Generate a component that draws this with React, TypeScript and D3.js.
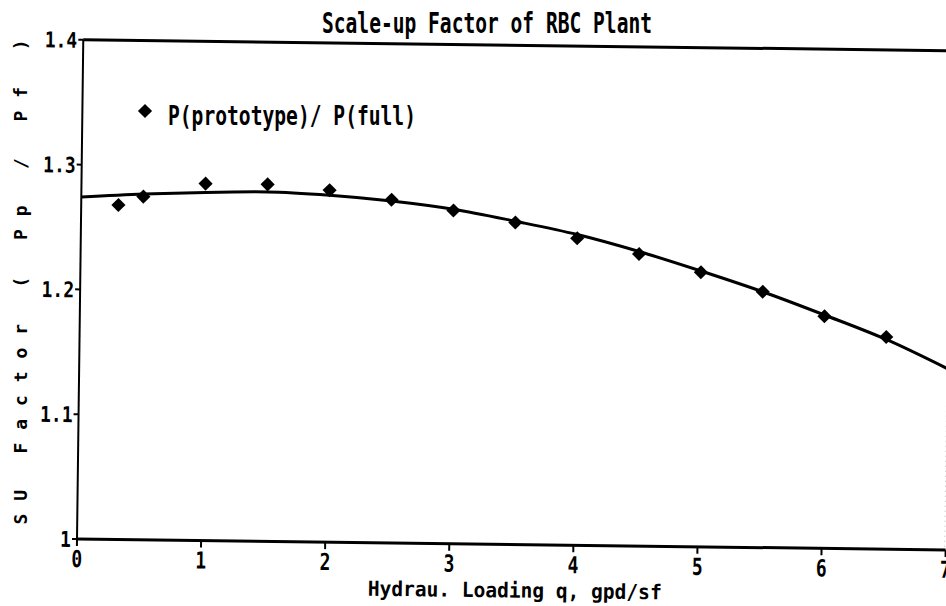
import React, { useEffect, useRef } from 'react';
import * as d3 from 'd3';

const width = 946;
const height = 606;

// measured points: P(prototype) / P(full)
const loadings = [0.3, 0.5, 1, 1.5, 2, 2.5, 3, 3.5, 4, 4.5, 5, 5.5, 6, 6.5];
const ratios = [1.268, 1.275, 1.286, 1.286, 1.282, 1.275, 1.267, 1.258, 1.246, 1.234, 1.220, 1.205, 1.186, 1.170];

// fitted curve
const fitLoadings = [0, 0.5, 1, 1.5, 2, 2.5, 3, 3.5, 4, 4.5, 5, 5.5, 6, 6.5, 7];
const fitRatios = [1.274, 1.277, 1.279, 1.280, 1.278, 1.274, 1.268, 1.259, 1.249, 1.236, 1.221, 1.205, 1.187, 1.168, 1.145];

const xTicks = [0, 1, 2, 3, 4, 5, 6, 7];
const xTickLabels = ['0', '1', '2', '3', '4', '5', '6', '7'];
const yTicks = [1, 1.1, 1.2, 1.3, 1.4];
const yTickLabels = ['1', '1.1', '1.2', '1.3', '1.4'];

const title = 'Scale-up Factor of RBC Plant';
const xTitle = 'Hydrau. Loading q, gpd/sf';
const yTitle = 'SU Factor ( Pp / Pf )';
const legendLabel = 'P(prototype)/ P(full)';

const font = '"DejaVu Sans Mono", monospace';

export default function App() {
    const ref = useRef<SVGSVGElement>(null);

    useEffect(() => {
        const svg = d3.select(ref.current);
        svg.selectAll('*').remove();

        const x = d3.scaleLinear().domain([0, 7]).range([77, 77 + 7 * 124.1]);
        const y = d3.scaleLinear().domain([1, 1.4]).range([539, 539 - 4 * 124.8]);

        // the scanned page is tilted a little clockwise
        const plot = svg.append('g').attr('transform', `rotate(0.72, ${x(0)}, ${y(1)})`);

        // frame
        plot.append('line')
            .attr('x1', x(0)).attr('x2', x(7))
            .attr('y1', y(1.4)).attr('y2', y(1.4))
            .attr('stroke', '#000').attr('stroke-width', 3);
        plot.append('line')
            .attr('x1', x(0)).attr('x2', x(0))
            .attr('y1', y(1.4)).attr('y2', y(1))
            .attr('stroke', '#000').attr('stroke-width', 2);
        plot.append('line')
            .attr('x1', x(0)).attr('x2', x(7))
            .attr('y1', y(1)).attr('y2', y(1))
            .attr('stroke', '#000').attr('stroke-width', 3);
        plot.append('line')
            .attr('x1', x(7) - 1).attr('x2', x(7) - 1)
            .attr('y1', y(1.4)).attr('y2', y(1))
            .attr('stroke', '#bbb').attr('stroke-width', 1)
            .attr('stroke-dasharray', '1,4');

        // y ticks
        yTicks.forEach((v, i) => {
            plot.append('line')
                .attr('x1', x(0) - 5).attr('x2', x(0))
                .attr('y1', y(v)).attr('y2', y(v))
                .attr('stroke', '#000').attr('stroke-width', 2);
            plot.append('text')
                .attr('transform', `translate(${x(0) - 6}, ${y(v) + 8}) scale(1, 1.2)`)
                .attr('text-anchor', 'end')
                .attr('font-family', font).attr('font-weight', 'bold').attr('font-size', 18)
                .text(yTickLabels[i]);
        });

        // x ticks
        xTicks.forEach((v, i) => {
            plot.append('line')
                .attr('x1', x(v)).attr('x2', x(v))
                .attr('y1', y(1)).attr('y2', y(1) + 7)
                .attr('stroke', '#000').attr('stroke-width', 2);
            plot.append('text')
                .attr('transform', `translate(${x(v)}, ${y(1) + 28}) scale(1, 1.3)`)
                .attr('text-anchor', 'middle')
                .attr('font-family', font).attr('font-weight', 'bold').attr('font-size', 18)
                .text(xTickLabels[i]);
        });

        // x axis title
        plot.append('text')
            .attr('transform', `translate(${(x(0) + x(7)) / 2 + 4}, 592) scale(1, 1.15)`)
            .attr('text-anchor', 'middle')
            .attr('font-family', font).attr('font-weight', 'bold').attr('font-size', 18)
            .attr('textLength', 294).attr('lengthAdjust', 'spacingAndGlyphs')
            .text(xTitle);

        // fitted curve
        const line = d3.line<number>()
            .x((d, i) => x(fitLoadings[i]))
            .y(d => y(d))
            .curve(d3.curveMonotoneX);
        plot.append('path')
            .attr('d', line(fitRatios))
            .attr('fill', 'none')
            .attr('stroke', '#000')
            .attr('stroke-width', 3);

        // data points
        const diamond = d3.symbol().type(d3.symbolSquare).size(100);
        plot.selectAll('path.pt')
            .data(ratios)
            .enter()
            .append('path')
            .attr('class', 'pt')
            .attr('d', diamond())
            .attr('transform', (d, i) => `translate(${x(loadings[i])}, ${y(d)}) rotate(45)`)
            .attr('fill', '#000');

        // legend
        svg.append('path')
            .attr('d', diamond())
            .attr('transform', 'translate(145, 111) rotate(45)')
            .attr('fill', '#000');
        svg.append('text')
            .attr('transform', 'translate(168, 125) scale(1, 1.3)')
            .attr('font-family', font).attr('font-weight', 'bold').attr('font-size', 20)
            .attr('textLength', 248).attr('lengthAdjust', 'spacingAndGlyphs')
            .text(legendLabel);

        // title
        svg.append('text')
            .attr('transform', 'translate(487, 33) scale(1, 1.4)')
            .attr('text-anchor', 'middle')
            .attr('font-family', font).attr('font-weight', 'bold').attr('font-size', 20)
            .attr('textLength', 330).attr('lengthAdjust', 'spacingAndGlyphs')
            .text(title);

        // y axis title, vertical
        svg.append('text')
            .attr('transform', 'translate(27, 282) rotate(-90)')
            .attr('text-anchor', 'middle')
            .attr('font-family', font).attr('font-weight', 'bold').attr('font-size', 18)
            .attr('textLength', 485).attr('lengthAdjust', 'spacing')
            .text(yTitle);
    }, []);

    return (
        <svg ref={ref} width={width} height={height}
            style={{ position: 'absolute', left: 0, top: 0, background: '#fff' }} />
    );
}
